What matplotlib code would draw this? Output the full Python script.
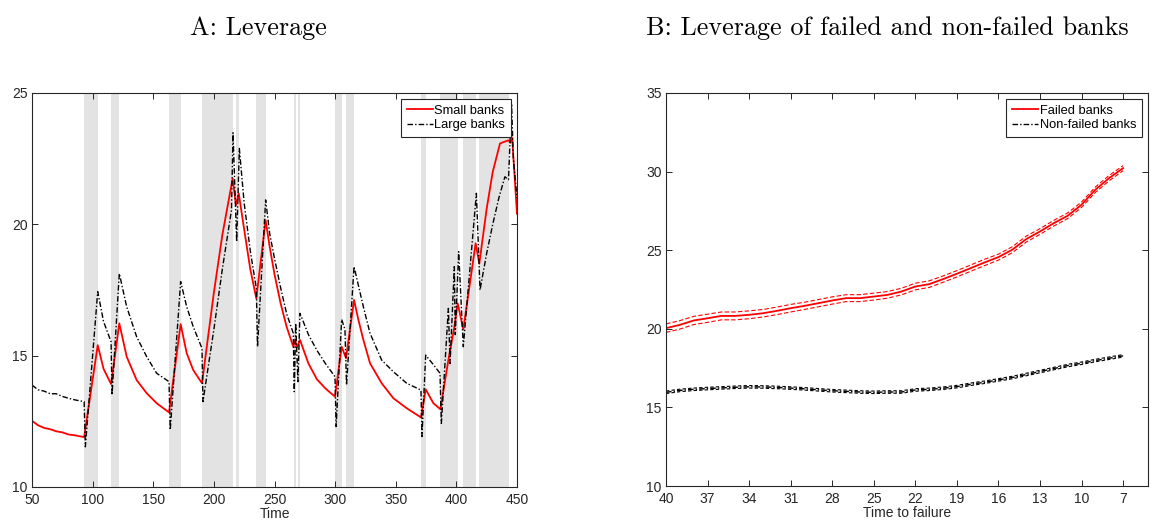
import matplotlib
matplotlib.use('Agg')
import matplotlib.pyplot as plt

plt.rcParams['font.family'] = ['Liberation Sans', 'DejaVu Sans']
plt.rcParams['axes.unicode_minus'] = False

# Panel A: leverage over time
t_small = [50, 55, 60, 65, 70, 75, 80, 85, 93,
           104.2, 109, 115.2, 122, 128.1, 136.3, 144.6, 152.8, 163, 172.6, 177.6, 183, 190.2,
           200, 207, 215.5, 218.2, 220.5, 225, 230, 235, 242.7, 246, 250, 255,
           260, 265.5, 267, 268.5, 271, 278, 285, 292, 299.9, 305.4, 309, 315.6,
           319, 323.3, 328.8, 338.4, 348, 359, 370.8, 374.7, 381, 386.8, 394, 398, 401.1,
           405.7, 415.9, 418.9, 425, 430, 436, 443, 444.5, 446, 450]
lev_small = [12.52, 12.35, 12.25, 12.2, 12.12, 12.08, 12.0, 11.97, 11.9,
             15.4, 14.5, 13.92, 16.23, 14.96, 14.07, 13.57, 13.19, 12.84, 16.2, 15.09, 14.45, 13.95,
             17.4, 19.6, 21.75, 20.73, 21.18, 19.8, 18.3, 17.18, 20.16, 19.15, 18.1, 17.0,
             16.1, 15.34, 15.6, 15.3, 15.6, 14.7, 14.1, 13.75, 13.44, 15.34, 14.9, 17.12,
             16.4, 15.6, 14.71, 13.95, 13.38, 13.0, 12.65, 13.72, 13.19, 12.96, 15.0, 16.0, 16.99,
             16.0, 19.28, 18.5, 20.6, 22.0, 23.08, 23.2, 23.1, 23.3, 20.4]

t_large = [50, 55, 60, 65, 70, 75, 80, 85, 93, 94,
           104.2, 109, 115.2, 116, 122, 128.1, 136.3, 144.6, 152.8, 163, 164, 172.6, 177.6, 183,
           190.2, 191, 200, 207, 214.5, 215.8, 218.8, 221, 225, 230, 235, 236,
           242.7, 246, 250, 255, 260, 265.5, 266.3, 267.5, 269.3, 271, 278, 285,
           292, 299.9, 300.8, 305.4, 308.1, 309.4, 315.6, 323.3, 328.8, 338.4, 348, 359,
           370.8, 371.6, 374.7, 381, 386.5, 387.6, 393.4, 394.8, 398.3, 399.1,
           401.9, 405.7, 416.5, 419.5, 425, 430, 435, 440, 443, 445.5, 447, 450]
lev_large = [13.88, 13.7, 13.65, 13.55, 13.55, 13.45, 13.38, 13.32, 13.25, 11.53,
             17.44, 16.3, 15.53, 13.5, 18.13, 16.86, 15.72, 14.96, 14.33, 14.01, 12.17, 17.82, 16.86, 16.1,
             15.28, 13.25, 16.0, 18.3, 20.54, 23.49, 19.34, 22.89, 20.8, 19.0, 17.56, 15.34,
             20.93, 19.66, 18.7, 17.6, 16.6, 15.85, 13.63, 16.23, 14.01, 16.61, 15.8, 15.2,
             14.7, 14.2, 12.3, 16.38, 16.0, 13.88, 18.39, 16.86, 15.85, 14.83, 14.39, 13.95,
             13.69, 11.92, 15.02, 14.66, 14.33, 12.42, 16.8, 14.7, 18.39, 15.8,
             18.96, 15.34, 21.18, 17.5, 18.9, 20.0, 21.0, 21.81, 21.7, 24.6, 22.5, 21.0]

# shaded periods
shade_start = [93.1, 115.2, 163.0, 190.2, 218.2, 235.0, 266.1, 269.4, 299.9, 309.0,
               370.8, 386.8, 405.7, 418.7]
shade_end = [104.2, 122.0, 172.6, 215.5, 221.0, 242.7, 267.5, 270.8, 305.4, 315.6,
             374.7, 401.1, 415.9, 443.4]

# Panel B: leverage before failure
ttf = list(range(40, 6, -1))
lev_failed = [20.04, 20.25, 20.53, 20.67, 20.82, 20.82, 20.89, 20.99, 21.14, 21.31,
              21.46, 21.63, 21.80, 21.95, 21.95, 22.05, 22.16, 22.37, 22.69, 22.84,
              23.16, 23.50, 23.86, 24.22, 24.56, 25.03, 25.70, 26.19, 26.72, 27.19,
              27.89, 28.85, 29.59, 30.22]
se_failed = [0.27, 0.27, 0.26, 0.26, 0.25, 0.25, 0.25, 0.24, 0.24, 0.24,
             0.23, 0.23, 0.23, 0.22, 0.22, 0.22, 0.21, 0.21, 0.21, 0.21,
             0.2, 0.2, 0.2, 0.2, 0.19, 0.19, 0.19, 0.18, 0.18, 0.18,
             0.17, 0.17, 0.17, 0.16]
lev_nonfailed = [15.96, 16.08, 16.15, 16.20, 16.24, 16.28, 16.31, 16.30, 16.27, 16.23,
                 16.18, 16.12, 16.06, 16.02, 15.98, 15.96, 15.98, 15.98, 16.11, 16.15,
                 16.22, 16.32, 16.47, 16.60, 16.75, 16.90, 17.09, 17.28, 17.47, 17.66,
                 17.81, 17.98, 18.13, 18.28]
se_nonfailed = [0.08] * 34

ink = '#262626'
dashdot = (0, (4, 1.5, 1, 1.5))
fig = plt.figure(figsize=(11.51, 5.25), dpi=100)
ax1 = fig.add_axes([32 / 1151, 38 / 525, 485 / 1151, 394 / 525])
ax2 = fig.add_axes([666 / 1151, 39 / 525, 482 / 1151, 393 / 525])

# A
for s, e in zip(shade_start, shade_end):
    ax1.axvspan(s, e, color='#e3e3e3', lw=0, zorder=0)
ax1.plot(t_small, lev_small, color='red', lw=1.3, label='Small banks')
ax1.plot(t_large, lev_large, color='black', lw=1.0, linestyle=dashdot, label='Large banks')
ax1.set_xlim(50, 450)
ax1.set_ylim(10, 25)
ax1.set_xticks(range(50, 451, 50))
ax1.set_yticks([10, 15, 20, 25])
ax1.set_xlabel('Time', fontsize=10, color=ink, labelpad=0)
ax1.set_title('A: Leverage', fontfamily='cmr10', fontsize=18.8, pad=42, x=0.467)

# B
ax2.plot(ttf, lev_failed, color='red', lw=1.3, label='Failed banks')
ax2.plot(ttf, [m + s for m, s in zip(lev_failed, se_failed)], color='red', lw=0.8, ls=(0, (4, 2)))
ax2.plot(ttf, [m - s for m, s in zip(lev_failed, se_failed)], color='red', lw=0.8, ls=(0, (4, 2)))
ax2.plot(ttf, lev_nonfailed, color='black', lw=1.0, linestyle=dashdot, label='Non-failed banks')
ax2.plot(ttf, [m + s for m, s in zip(lev_nonfailed, se_nonfailed)], color='black', lw=0.8, ls=(0, (3, 2)))
ax2.plot(ttf, [m - s for m, s in zip(lev_nonfailed, se_nonfailed)], color='black', lw=0.8, ls=(0, (3, 2)))
ax2.set_xlim(40, 5.2)
ax2.set_ylim(10, 35)
ax2.set_xticks(range(40, 6, -3))
ax2.set_yticks(range(10, 36, 5))
ax2.set_xlabel('Time to failure', fontsize=10, color=ink, labelpad=0)
ax2.set_title('B: Leverage of failed and non-failed banks', fontfamily='cmr10',
              fontsize=18.8, pad=42, x=0.46)

for ax in (ax1, ax2):
    ax.tick_params(direction='in', top=True, right=True, length=4.5, width=0.7,
                   labelsize=10, colors=ink)
    ax.tick_params(axis='x', pad=4.5)
    ax.tick_params(axis='y', pad=3)
    for sp in ax.spines.values():
        sp.set_color(ink)
        sp.set_linewidth(0.8)
    leg = ax.legend(loc='upper right', fontsize=9.3, frameon=True, fancybox=False,
                    borderpad=0.45, handlelength=2.0, handletextpad=0.15,
                    labelspacing=0.2, borderaxespad=0.45)
    leg.get_frame().set_edgecolor(ink)
    leg.get_frame().set_linewidth(0.8)
    leg.get_frame().set_alpha(1)

fig.savefig('out.png', dpi=100)
